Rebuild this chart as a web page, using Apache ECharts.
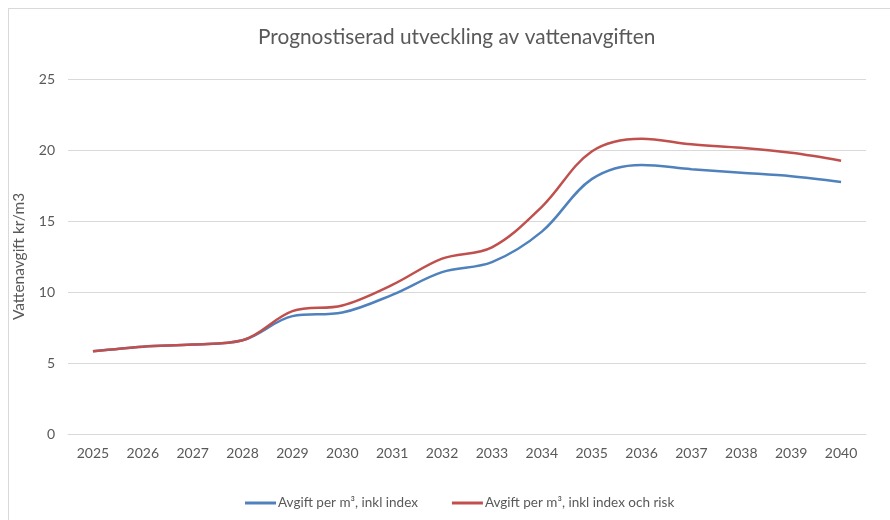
<!DOCTYPE html>
<html>
<head>
<meta charset="utf-8">
<script src="https://cdn.jsdelivr.net/npm/echarts@6/dist/echarts.min.js"></script>
<style>
  html, body { margin: 0; padding: 0; background: #fff; }
  #frame { position: absolute; left: 8px; top: 8px; width: 900px; height: 600px; border: 1px solid #d9d9d9; box-sizing: border-box; }
  #chart { position: absolute; left: 0; top: 0; width: 890px; height: 520px; }
</style>
</head>
<body>
<div id="frame"></div>
<div id="chart"></div>
<script>
const years = ['2025', '2026', '2027', '2028', '2029', '2030', '2031', '2032',
  '2033', '2034', '2035', '2036', '2037', '2038', '2039', '2040']
const avgiftIndex = [5.82, 6.15, 6.3, 6.6, 8.3, 8.55, 9.8, 11.4,
  12.1, 14.25, 17.95, 18.95, 18.65, 18.4, 18.15, 17.75]
const avgiftIndexRisk = [5.82, 6.15, 6.3, 6.6, 8.65, 9.05, 10.5, 12.35,
  13.15, 16.0, 19.9, 20.8, 20.4, 20.15, 19.8, 19.25]

const textColor = '#595959'
const font = 'Lato, "Open Sans", sans-serif'

const chart = echarts.init(document.getElementById('chart'))

chart.setOption({
  animation: false,
  textStyle: { fontFamily: font, color: textColor },
  title: {
    text: 'Prognostiserad utveckling av vattenavgiften',
    left: 253,
    top: 22,
    textStyle: { fontFamily: font, fontSize: 20.8, fontWeight: 'normal', color: textColor }
  },
  legend: {
    bottom: 5,
    left: 240,
    itemWidth: 31,
    itemHeight: 3,
    itemGap: 34,
    icon: 'rect',
    textStyle: { fontFamily: font, fontSize: 13.5, color: textColor, padding: [0, 0, 0, -3] },
    data: ['Avgift per m³, inkl index', 'Avgift per m³, inkl index och risk']
  },
  grid: {
    left: 68,
    right: 24,
    top: 79,
    bottom: 86
  },
  xAxis: {
    type: 'category',
    data: years,
    boundaryGap: true,
    axisLine: { lineStyle: { color: '#d9d9d9', width: 1 } },
    axisTick: { show: false },
    axisLabel: { color: textColor, fontSize: 14, margin: 12, fontFamily: font }
  },
  yAxis: {
    type: 'value',
    min: 0,
    max: 25,
    interval: 5,
    name: 'Vattenavgift kr/m3',
    nameLocation: 'middle',
    nameGap: 41,
    nameTextStyle: { color: textColor, fontSize: 15.5, fontFamily: font },
    axisLine: { show: false },
    axisTick: { show: false },
    axisLabel: { color: textColor, fontSize: 14, margin: 13, fontFamily: font },
    splitLine: { lineStyle: { color: '#d9d9d9', width: 1 } }
  },
  series: [
    {
      name: 'Avgift per m³, inkl index',
      type: 'line',
      data: avgiftIndex,
      smooth: 0.35,
      symbol: 'none',
      lineStyle: { color: '#4F81BD', width: 2.5 },
      itemStyle: { color: '#4F81BD' }
    },
    {
      name: 'Avgift per m³, inkl index och risk',
      type: 'line',
      data: avgiftIndexRisk,
      smooth: 0.35,
      symbol: 'none',
      lineStyle: { color: '#C0504D', width: 2.5 },
      itemStyle: { color: '#C0504D' }
    }
  ]
})
</script>
</body>
</html>
